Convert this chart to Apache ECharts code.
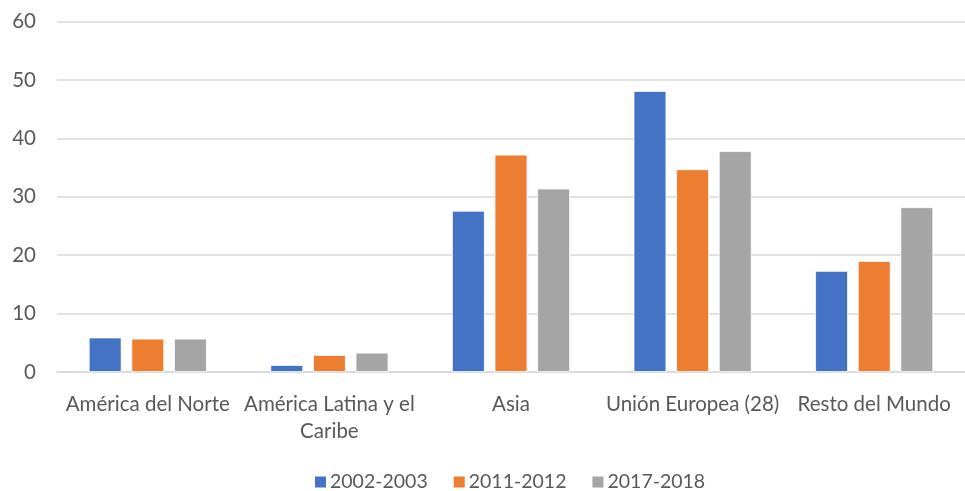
<!DOCTYPE html>
<html><head><meta charset="utf-8">
<script src="https://cdn.jsdelivr.net/npm/echarts@6/dist/echarts.min.js"></script>
<style>html,body{margin:0;padding:0;background:#fff}#c{width:965px;height:491px}</style>
</head><body><div id="c"></div>
<script>
const categories = ['América del Norte', 'América Latina y el\nCaribe', 'Asia', 'Unión Europea (28)', 'Resto del Mundo'];
const s2002 = [5.9, 1.2, 27.6, 48.1, 17.3];
const s2011 = [5.7, 2.9, 37.2, 34.7, 19.0];
const s2017 = [5.7, 3.3, 31.4, 37.8, 28.2];
const seriesNames = ['2002-2003', '2011-2012', '2017-2018'];
const colors = ['#4472C4', '#ED7D31', '#A5A5A5'];
const font = 'Lato, "Open Sans", sans-serif';
const chart = echarts.init(document.getElementById('c'));
const mk = (name, data, i) => ({
  name, type: 'bar', data,
  barGap: '30%', barCategoryGap: '35%',
  itemStyle: { color: colors[i], borderColor: '#fff', borderWidth: 0.8 }
});
chart.setOption({
  animation: false,
  grid: { left: 57, right: 0, top: 21.5, bottom: 119 },
  legend: {
    top: 467, left: 308, itemWidth: 13, itemHeight: 13, itemGap: 24,
    icon: 'rect',
    textStyle: { fontFamily: font, fontSize: 19.5, color: '#595959', padding: [0, 0, 0, -2] },
    data: seriesNames
  },
  xAxis: {
    type: 'category', data: categories,
    axisLine: { lineStyle: { color: '#d9d9d9', width: 1.5 } },
    axisTick: { show: false },
    axisLabel: { fontFamily: font, fontSize: 20.5, color: '#595959', margin: 19, lineHeight: 27, interval: 0 }
  },
  yAxis: {
    type: 'value', min: 0, max: 60, interval: 10,
    axisLine: { show: false }, axisTick: { show: false },
    splitLine: { lineStyle: { color: '#d9d9d9', width: 1.5 } },
    axisLabel: { fontFamily: font, fontSize: 20.5, color: '#595959', margin: 21 }
  },
  series: [mk(seriesNames[0], s2002, 0), mk(seriesNames[1], s2011, 1), mk(seriesNames[2], s2017, 2)]
});
</script></body></html>
